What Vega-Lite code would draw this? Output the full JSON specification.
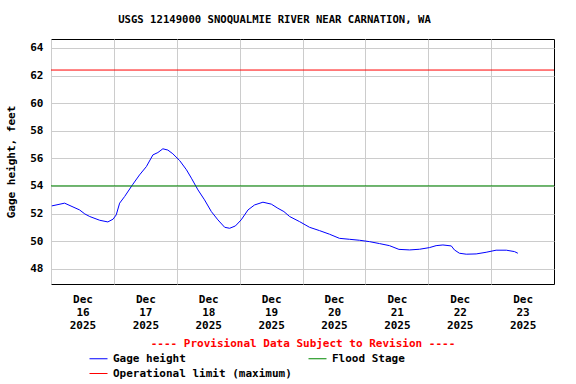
{
  "$schema": "https://vega.github.io/schema/vega-lite/v6.json",
  "autosize": {"type": "none"},
  "padding": {"left": 51, "top": 39, "right": 22, "bottom": 100},
  "width": 503,
  "height": 245,
  "background": "white",
  "config": {
    "font": "DejaVu Sans Mono",
    "view": {"stroke": "black", "strokeWidth": 1},
    "axis": {"labelFont": "DejaVu Sans Mono", "labelFontWeight": "bold", "labelFontSize": 11, "labelColor": "black", "titleFont": "DejaVu Sans Mono", "titleFontWeight": "bold", "titleFontSize": 11, "titleColor": "black", "gridColor": "#cccccc", "gridOpacity": 1, "gridWidth": 1, "ticks": false, "domain": false},
    "legend": {"labelFont": "DejaVu Sans Mono", "labelFontWeight": "bold", "labelFontSize": 11, "labelColor": "black"}
  },
  "title": {
    "text": "USGS 12149000 SNOQUALMIE RIVER NEAR CARNATION, WA",
    "font": "DejaVu Sans Mono",
    "fontWeight": "bold",
    "fontSize": 10.6,
    "color": "black",
    "anchor": "middle",
    "baseline": "alphabetic",
    "offset": 5,
    "dx": -28
  },
  "datasets": {
    "gage": [
      {"time": "2025-12-16T00:18", "value": 52.55, "series": "Gage height"},
      {"time": "2025-12-16T05:12", "value": 52.75, "series": "Gage height"},
      {"time": "2025-12-16T10:54", "value": 52.26, "series": "Gage height"},
      {"time": "2025-12-16T12:54", "value": 51.97, "series": "Gage height"},
      {"time": "2025-12-16T14:48", "value": 51.78, "series": "Gage height"},
      {"time": "2025-12-16T18:36", "value": 51.51, "series": "Gage height"},
      {"time": "2025-12-16T21:42", "value": 51.39, "series": "Gage height"},
      {"time": "2025-12-16T23:42", "value": 51.59, "series": "Gage height"},
      {"time": "2025-12-17T00:54", "value": 51.9, "series": "Gage height"},
      {"time": "2025-12-17T02:12", "value": 52.75, "series": "Gage height"},
      {"time": "2025-12-17T04:06", "value": 53.23, "series": "Gage height"},
      {"time": "2025-12-17T07:06", "value": 54.08, "series": "Gage height"},
      {"time": "2025-12-17T09:48", "value": 54.8, "series": "Gage height"},
      {"time": "2025-12-17T12:24", "value": 55.4, "series": "Gage height"},
      {"time": "2025-12-17T14:54", "value": 56.25, "series": "Gage height"},
      {"time": "2025-12-17T16:48", "value": 56.42, "series": "Gage height"},
      {"time": "2025-12-17T18:42", "value": 56.69, "series": "Gage height"},
      {"time": "2025-12-17T20:36", "value": 56.6, "series": "Gage height"},
      {"time": "2025-12-17T22:30", "value": 56.33, "series": "Gage height"},
      {"time": "2025-12-18T01:06", "value": 55.84, "series": "Gage height"},
      {"time": "2025-12-18T03:42", "value": 55.17, "series": "Gage height"},
      {"time": "2025-12-18T05:36", "value": 54.56, "series": "Gage height"},
      {"time": "2025-12-18T08:06", "value": 53.71, "series": "Gage height"},
      {"time": "2025-12-18T10:36", "value": 52.99, "series": "Gage height"},
      {"time": "2025-12-18T13:12", "value": 52.14, "series": "Gage height"},
      {"time": "2025-12-18T15:42", "value": 51.54, "series": "Gage height"},
      {"time": "2025-12-18T18:18", "value": 51.0, "series": "Gage height"},
      {"time": "2025-12-18T20:12", "value": 50.93, "series": "Gage height"},
      {"time": "2025-12-18T22:24", "value": 51.1, "series": "Gage height"},
      {"time": "2025-12-19T00:36", "value": 51.54, "series": "Gage height"},
      {"time": "2025-12-19T03:12", "value": 52.26, "series": "Gage height"},
      {"time": "2025-12-19T05:42", "value": 52.62, "series": "Gage height"},
      {"time": "2025-12-19T08:54", "value": 52.82, "series": "Gage height"},
      {"time": "2025-12-19T12:06", "value": 52.68, "series": "Gage height"},
      {"time": "2025-12-19T14:36", "value": 52.38, "series": "Gage height"},
      {"time": "2025-12-19T16:54", "value": 52.14, "series": "Gage height"},
      {"time": "2025-12-19T19:06", "value": 51.78, "series": "Gage height"},
      {"time": "2025-12-19T22:54", "value": 51.41, "series": "Gage height"},
      {"time": "2025-12-20T02:42", "value": 51.0, "series": "Gage height"},
      {"time": "2025-12-20T06:30", "value": 50.76, "series": "Gage height"},
      {"time": "2025-12-20T10:18", "value": 50.5, "series": "Gage height"},
      {"time": "2025-12-20T14:06", "value": 50.2, "series": "Gage height"},
      {"time": "2025-12-20T18:00", "value": 50.13, "series": "Gage height"},
      {"time": "2025-12-20T21:48", "value": 50.06, "series": "Gage height"},
      {"time": "2025-12-21T01:36", "value": 49.96, "series": "Gage height"},
      {"time": "2025-12-21T05:24", "value": 49.82, "series": "Gage height"},
      {"time": "2025-12-21T09:12", "value": 49.67, "series": "Gage height"},
      {"time": "2025-12-21T12:48", "value": 49.4, "series": "Gage height"},
      {"time": "2025-12-21T16:54", "value": 49.36, "series": "Gage height"},
      {"time": "2025-12-21T20:42", "value": 49.41, "series": "Gage height"},
      {"time": "2025-12-22T00:30", "value": 49.53, "series": "Gage height"},
      {"time": "2025-12-22T03:00", "value": 49.67, "series": "Gage height"},
      {"time": "2025-12-22T05:36", "value": 49.72, "series": "Gage height"},
      {"time": "2025-12-22T08:48", "value": 49.65, "series": "Gage height"},
      {"time": "2025-12-22T10:00", "value": 49.36, "series": "Gage height"},
      {"time": "2025-12-22T11:54", "value": 49.12, "series": "Gage height"},
      {"time": "2025-12-22T14:30", "value": 49.05, "series": "Gage height"},
      {"time": "2025-12-22T18:18", "value": 49.07, "series": "Gage height"},
      {"time": "2025-12-22T22:06", "value": 49.19, "series": "Gage height"},
      {"time": "2025-12-23T01:54", "value": 49.34, "series": "Gage height"},
      {"time": "2025-12-23T05:48", "value": 49.34, "series": "Gage height"},
      {"time": "2025-12-23T08:54", "value": 49.24, "series": "Gage height"},
      {"time": "2025-12-23T10:12", "value": 49.12, "series": "Gage height"}
    ],
    "limits": [
      {"series": "Flood Stage", "value": 54.0},
      {"series": "Operational limit (maximum)", "value": 62.4}
    ]
  },
  "encoding": {
    "y": {
      "field": "value", "type": "quantitative",
      "scale": {"domain": [46.89, 64.65], "nice": false, "zero": false},
      "axis": {"values": [48, 50, 52, 54, 56, 58, 60, 62, 64], "labelOverlap": false, "labelPadding": 8, "title": "Gage height, feet", "titlePadding": 13}
    },
    "color": {
      "field": "series", "type": "nominal",
      "scale": {"domain": ["Gage height", "Operational limit (maximum)", "Flood Stage"], "range": ["#0000ff", "#ff0000", "#008800"]},
      "legend": {
        "title": null,
        "orient": "none",
        "direction": "vertical",
        "legendX": 38,
        "legendY": 310,
        "columns": 2,
        "columnPadding": 14,
        "rowPadding": 0,
        "symbolType": "M-1,0L1,0",
        "symbolSize": 324,
        "symbolStrokeWidth": 1,
        "symbolStrokeColor": null,
        "labelOffset": 5,
        "labelLimit": 200,
        "padding": 0
      }
    }
  },
  "layer": [
    {
      "data": {"name": "gage"},
      "mark": {"type": "line", "strokeWidth": 1, "interpolate": "linear"},
      "encoding": {
        "x": {
          "field": "time", "type": "temporal",
          "scale": {"domain": [{"year": 2025, "month": 12, "date": 16}, {"year": 2025, "month": 12, "date": 24}]},
          "axis": {
            "values": [
              {"year": 2025, "month": 12, "date": 16},
              {"year": 2025, "month": 12, "date": 17},
              {"year": 2025, "month": 12, "date": 18},
              {"year": 2025, "month": 12, "date": 19},
              {"year": 2025, "month": 12, "date": 20},
              {"year": 2025, "month": 12, "date": 21},
              {"year": 2025, "month": 12, "date": 22},
              {"year": 2025, "month": 12, "date": 23}
            ],
            "labelExpr": "[timeFormat(datum.value, '%b'), timeFormat(datum.value, '%d'), timeFormat(datum.value, '%Y')]",
            "labelOffset": 31.5,
            "labelPadding": 9,
            "labelLineHeight": 13,
            "labelOverlap": false,
            "labelFlush": false,
            "labelBound": false,
            "title": "---- Provisional Data Subject to Revision ----",
            "titleColor": "#ff0000",
            "titlePadding": 7
          }
        }
      }
    },
    {
      "data": {"name": "limits"},
      "mark": {"type": "rule", "strokeWidth": 1},
      "encoding": {}
    }
  ]
}
